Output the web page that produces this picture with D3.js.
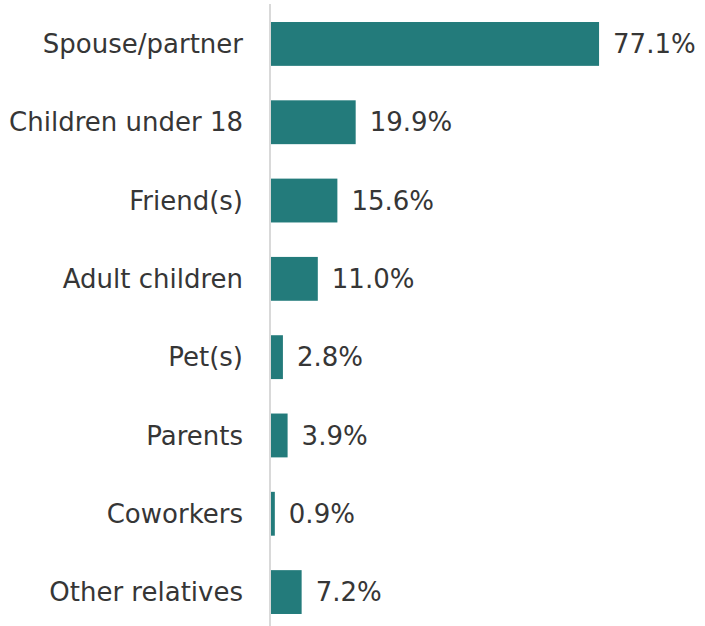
<!DOCTYPE html>
<html>
<head>
<meta charset="utf-8">
<script src="https://cdn.jsdelivr.net/npm/d3@7"></script>
<style>
  body { margin: 0; background: #fff; }
  svg text { font-family: "DejaVu Sans", sans-serif; fill: #363636; }
</style>
</head>
<body>
<svg id="chart" width="705" height="626"></svg>
<script>
const categories = ["Spouse/partner", "Children under 18", "Friend(s)", "Adult children",
    "Pet(s)", "Parents", "Coworkers", "Other relatives"];
const values = [77.1, 19.9, 15.6, 11.0, 2.8, 3.9, 0.9, 7.2];

const svg = d3.select("#chart");
const axisX = 270;

const xScale = d3.scaleLinear()
    .domain([0, 80])
    .range([axisX + 1, axisX + 1 + 80 * 4.255]);

const yScale = d3.scaleBand()
    .domain(categories)
    .range([4, 632])
    .paddingInner(0.44)
    .paddingOuter(0.23);

const rows = categories.map((c, i) => ({cat: c, val: values[i]}));

svg.selectAll(".bar")
    .data(rows)
    .enter()
    .append("rect")
    .attr("class", "bar")
    .attr("x", xScale(0))
    .attr("y", d => yScale(d.cat))
    .attr("width", d => xScale(d.val) - xScale(0))
    .attr("height", yScale.bandwidth())
    .attr("fill", "#237b7b");

// category axis line
svg.append("line")
    .attr("x1", axisX).attr("x2", axisX)
    .attr("y1", 4).attr("y2", 626)
    .attr("stroke", "#d9d9d9")
    .attr("stroke-width", 2);

svg.selectAll(".cat")
    .data(rows)
    .enter()
    .append("text")
    .attr("class", "cat")
    .attr("x", 243)
    .attr("y", d => yScale(d.cat) + yScale.bandwidth() / 2)
    .attr("dy", "0.35em")
    .attr("text-anchor", "end")
    .style("font-size", "26px")
    .text(d => d.cat);

svg.selectAll(".val")
    .data(rows)
    .enter()
    .append("text")
    .attr("class", "val")
    .attr("x", d => xScale(d.val) + 14)
    .attr("y", d => yScale(d.cat) + yScale.bandwidth() / 2)
    .attr("dy", "0.35em")
    .style("font-size", "26px")
    .text(d => d.val.toFixed(1) + "%");
</script>
</body>
</html>
